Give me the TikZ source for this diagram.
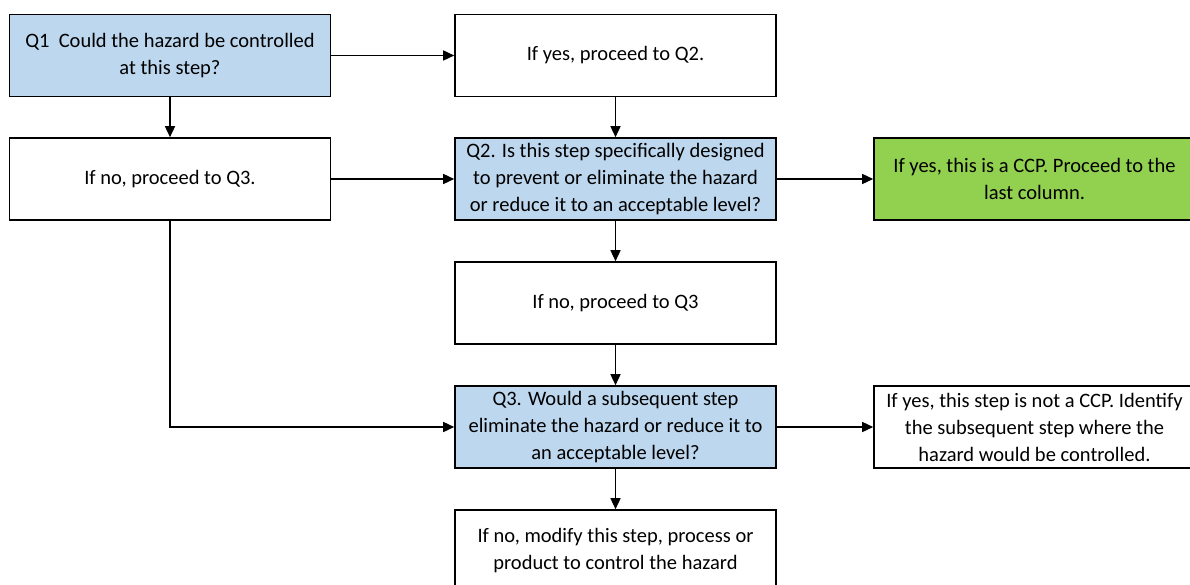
\documentclass[tikz,border=0pt]{standalone}
\usepackage{fontspec}
\setmainfont{Carlito}
\usepackage{xcolor}
\usepackage{tikz}
\usetikzlibrary{positioning,arrows.meta}
\definecolor{qblue}{HTML}{BDD7EE}
\definecolor{ccpgreen}{HTML}{92D050}
\tikzset{
  stepbox/.style={draw, line width=1.6pt, minimum width=321pt, minimum height=82pt,
    align=center, inner sep=4pt},
  qbox/.style={stepbox, fill=qblue},
  flow/.style={line width=1.5pt, -{Triangle[length=11pt,width=10pt]}}
}

\begin{document}
\begin{tikzpicture}[x=1pt, y=-1pt, font=\fontsize{20.5}{27}\selectfont]
\useasboundingbox (0,0) rectangle (1190,585);
% questions and answers
\node[qbox] (q1) at (170,55.5) {Q1\ \ Could the hazard be controlled\\ at this step?};
\node[stepbox] (yes1) at (615.5,55.5) {If yes, proceed to Q2.};
\node[stepbox] (no1) at (170,179) {If no, proceed to Q3.};
\node[qbox] (q2) at (615.5,179)
  {Q2. Is this step specifically designed\\ to prevent or eliminate the hazard\\ or reduce it to an acceptable level?};
\node[stepbox, fill=ccpgreen] (ccp) at (1034.5,179) {If yes, this is a CCP. Proceed to the\\ last column.};
\node[stepbox] (no2) at (615.5,303) {If no, proceed to Q3};
\node[qbox] (q3) at (615.5,427)
  {Q3. Would a subsequent step\\ eliminate the hazard or reduce it to\\ an acceptable level?};
\node[stepbox] (notccp) at (1034.5,427)
  {If yes, this step is not a CCP. Identify\\ the subsequent step where the\\ hazard would be controlled.};
\node[stepbox] (modify) at (615.5,551) {If no, modify this step, process or\\ product to control the hazard};
% connectors
\draw[flow] (q1) -- (yes1);
\draw[flow] (q1) -- (no1);
\draw[flow] (yes1) -- (q2);
\draw[flow] (no1) -- (q2);
\draw[flow] (q2) -- (ccp);
\draw[flow] (q2) -- (no2);
\draw[flow] (no2) -- (q3);
\draw[flow] (no1) |- (q3);
\draw[flow] (q3) -- (notccp);
\draw[flow] (q3) -- (modify);
\end{tikzpicture}
\end{document}
